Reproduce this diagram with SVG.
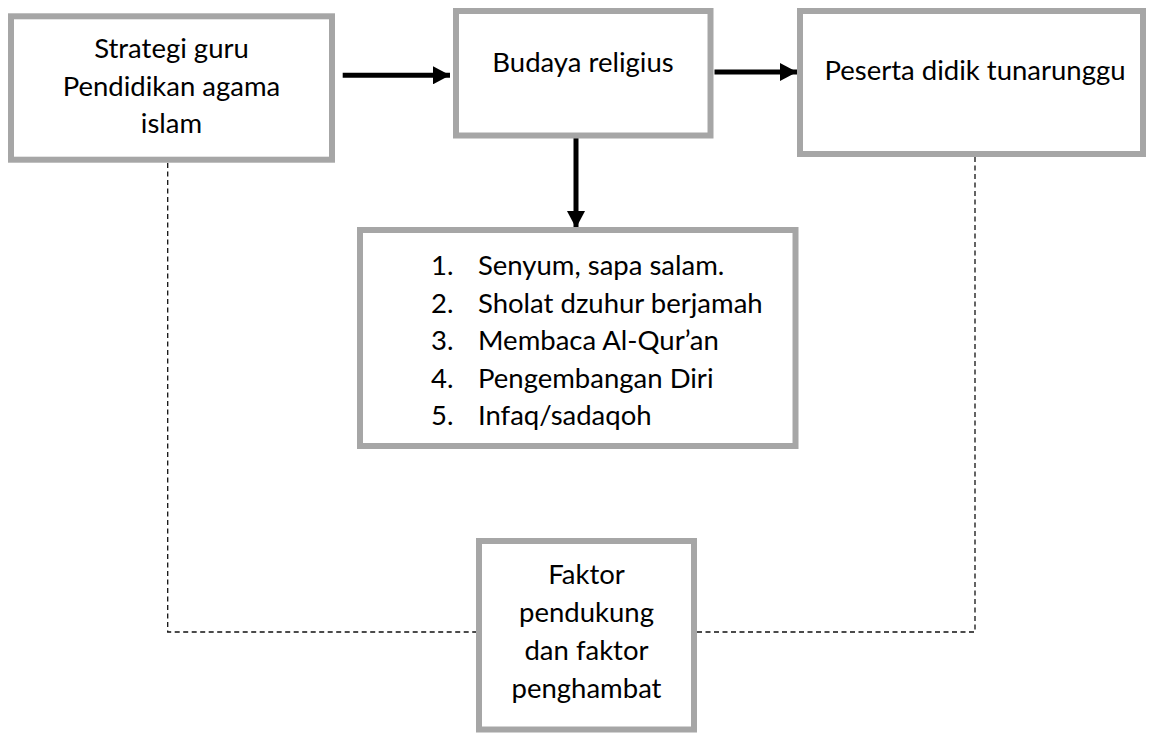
<svg xmlns="http://www.w3.org/2000/svg" width="1149" height="733" viewBox="0 0 1149 733">
<style>
.box{fill:#fff;stroke:#a6a6a6;stroke-width:6}
.t{font-family:Lato,"Open Sans",sans-serif;font-size:27.5px;fill:#000}
.c{text-anchor:middle}
.arr{stroke:#000;stroke-width:5;fill:none}
.dash{stroke:#111;stroke-width:1.3;fill:none;stroke-dasharray:5 3.5}
</style>
<defs>
<marker id="ah" markerUnits="userSpaceOnUse" markerWidth="18" markerHeight="18" refX="17" refY="9" orient="auto">
<path d="M0,0 L17,9 L0,18 Z" fill="#000"/>
</marker>
</defs>
<g id="connectors">
<path class="dash" d="M167.7,163 V632 H476"/>
<path class="dash" d="M975,157 V632 H697"/>
<line class="arr" x1="342.7" y1="75.3" x2="450" y2="75.3" marker-end="url(#ah)"/>
<line class="arr" x1="714.5" y1="72" x2="797" y2="72" marker-end="url(#ah)"/>
<line class="arr" x1="576" y1="138" x2="576" y2="228" marker-end="url(#ah)"/>
</g>
<g id="node-strategi">
<rect class="box" x="11" y="16.3" width="321" height="143.4"/>
<text class="t c" x="171.5" y="58">Strategi guru</text>
<text class="t c" x="171.5" y="95.5">Pendidikan agama</text>
<text class="t c" x="171.5" y="133">islam</text>
</g>
<g id="node-budaya">
<rect class="box" x="456" y="11" width="254.5" height="124.5"/>
<text class="t c" x="583" y="72">Budaya religius</text>
</g>
<g id="node-peserta">
<rect class="box" x="800" y="11" width="343" height="143"/>
<text class="t c" x="975" y="80">Peserta didik tunarunggu</text>
</g>
<g id="node-list">
<rect class="box" x="360" y="230" width="435.5" height="216"/>
<text class="t" x="431" y="275">1.</text><text class="t" x="478" y="275">Senyum, sapa salam.</text>
<text class="t" x="431" y="312.5">2.</text><text class="t" x="478" y="312.5">Sholat dzuhur berjamah</text>
<text class="t" x="431" y="350">3.</text><text class="t" x="478" y="350">Membaca Al-Qur’an</text>
<text class="t" x="431" y="387.5">4.</text><text class="t" x="478" y="387.5">Pengembangan Diri</text>
<text class="t" x="431" y="425">5.</text><text class="t" x="478" y="425">Infaq/sadaqoh</text>
</g>
<g id="node-faktor">
<rect class="box" x="479" y="541" width="215" height="188.5"/>
<text class="t c" x="586.5" y="583.5">Faktor</text>
<text class="t c" x="586.5" y="621.7">pendukung</text>
<text class="t c" x="586.5" y="659.9">dan faktor</text>
<text class="t c" x="586.5" y="698">penghambat</text>
</g>
</svg>
